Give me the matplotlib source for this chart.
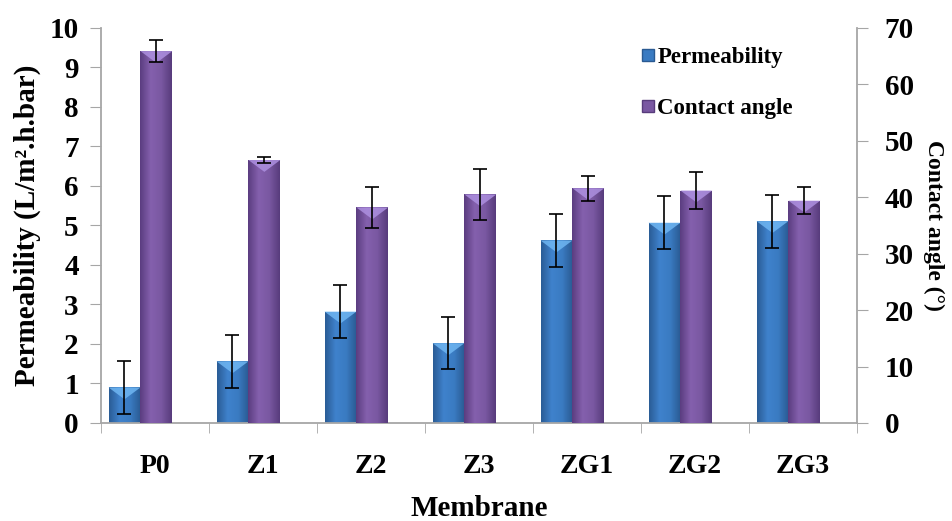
import numpy as np
import matplotlib
matplotlib.use('Agg')
import matplotlib.pyplot as plt
from matplotlib.patches import Polygon
from matplotlib.lines import Line2D
from matplotlib.colors import LinearSegmentedColormap

membranes = ['P0', 'Z1', 'Z2', 'Z3', 'ZG1', 'ZG2', 'ZG3']
permeability = [0.90, 1.56, 2.82, 2.02, 4.62, 5.07, 5.11]
perm_err = [0.68, 0.67, 0.67, 0.66, 0.67, 0.67, 0.67]
contact_angle = [65.9, 46.6, 38.2, 40.5, 41.6, 41.2, 39.4]
angle_err = [1.95, 0.55, 3.6, 4.5, 2.2, 3.2, 2.4]

plt.rcParams['font.family'] = 'Liberation Serif'
plt.rcParams['font.weight'] = 'bold'

fig = plt.figure(figsize=(9.52, 5.21), dpi=100)
ax = fig.add_axes([0.1061, 0.1881, 0.7941, 0.7582])
ax2 = ax.twinx()

x = np.arange(len(membranes))
w = 0.295
grey = '#a6a6a6'

blue_cmap = LinearSegmentedColormap.from_list('b', ['#2a5c96', '#3f82cc', '#3a7bc2', '#2a5a92'])
purp_cmap = LinearSegmentedColormap.from_list('p', ['#5b3d80', '#8460ad', '#7a58a2', '#583c7c'])
grad = np.linspace(0, 1, 64).reshape(1, -1)


def shade(axis, bars, cmap, tip_color, tip_h):
    # horizontal gradient + light bevel at top of each bar
    for b in bars:
        x0, y0 = b.get_x(), b.get_y()
        bw, bh = b.get_width(), b.get_height()
        im = axis.imshow(grad, cmap=cmap, aspect='auto', extent=(x0, x0 + bw, y0, y0 + bh),
                         zorder=b.get_zorder() + 0.1)
        im.set_clip_path(b)
        tip = Polygon([(x0, y0 + bh), (x0 + bw, y0 + bh), (x0 + bw / 2, y0 + bh - tip_h)],
                      closed=True, facecolor=tip_color, edgecolor='none', alpha=0.85,
                      zorder=b.get_zorder() + 0.2)
        axis.add_patch(tip)


b1 = ax.bar(x - 0.43, permeability, w, align='edge', color='#3a7bc2', zorder=2)
shade(ax, b1, blue_cmap, '#6fb6f2', 0.3)
ax.errorbar(x - 0.43 + w / 2, permeability, yerr=perm_err, fmt='none', ecolor='black',
            elinewidth=1.2, capsize=5, capthick=1.2, zorder=5)

b2 = ax2.bar(x - 0.43 + w, contact_angle, w, align='edge', color='#7a58a2', zorder=2)
shade(ax2, b2, purp_cmap, '#ad90e0', 2.1)
ax2.errorbar(x - 0.43 + 1.5 * w, contact_angle, yerr=angle_err, fmt='none', ecolor='black',
             elinewidth=1.2, capsize=5, capthick=1.2, zorder=5)

ax.set_xlim(-0.5, len(membranes) - 0.5)
ax.set_ylim(0, 10)
ax2.set_ylim(0, 70)
ax.set_yticks(range(0, 11))
ax2.set_yticks(range(0, 71, 10))

ax.set_xticks(x)
ax.set_xticklabels(membranes, fontsize=20, fontweight='bold')
ax.set_xticks(np.arange(-0.5, len(membranes)), minor=True)
ax.tick_params(axis='x', which='major', length=0, pad=22)
ax.tick_params(axis='x', which='minor', length=7, color=grey, direction='out')
ax.tick_params(axis='y', labelsize=21, length=8, color=grey, direction='out', pad=8)
ax2.tick_params(axis='y', labelsize=21, length=8, color=grey, direction='out', pad=12)
for lbl in ax.get_yticklabels() + ax2.get_yticklabels():
    lbl.set_fontweight('bold')

for a in (ax, ax2):
    a.spines['top'].set_visible(False)
    for s in ('left', 'right', 'bottom'):
        a.spines[s].set_color(grey)
        a.spines[s].set_linewidth(1.3)
ax.spines['right'].set_visible(False)
ax2.spines['left'].set_visible(False)
ax2.spines['bottom'].set_visible(False)

ax.set_xlabel('Membrane', fontsize=21, fontweight='bold', labelpad=12)
ax.set_ylabel('Permeability (L/m².h.bar)', fontsize=21, fontweight='bold', labelpad=6)
ax2.set_ylabel('Contact angle (°)', fontsize=17, fontweight='bold', rotation=270, labelpad=22)

handles = [Line2D([], [], marker='s', linestyle='', markersize=9, markerfacecolor='#3a7bc2',
                  markeredgecolor='#2a5a92'),
           Line2D([], [], marker='s', linestyle='', markersize=9, markerfacecolor='#7a58a2',
                  markeredgecolor='#583c7c')]
fig.legend(handles, ['Permeability', 'Contact angle'], loc='upper left',
           bbox_to_anchor=(0.652, 0.95), frameon=False, handlelength=0.6,
           handletextpad=0.1, labelspacing=1.3, prop={'size': 16.5, 'weight': 'bold'})

fig.savefig('out.png', dpi=100)
